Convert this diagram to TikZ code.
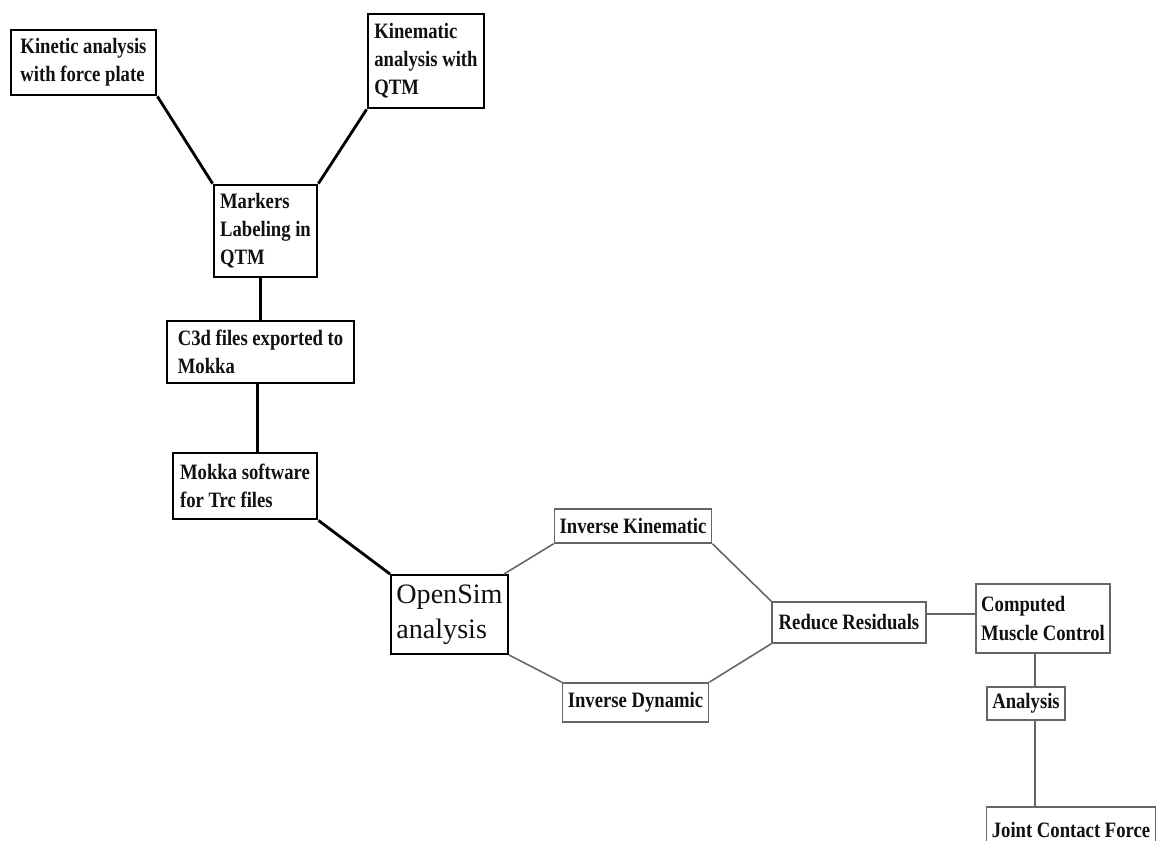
\documentclass[tikz,border=0pt]{standalone}
\usepackage{fontspec}
\setmainfont{Liberation Serif}[FakeStretch=0.85]
\newfontfamily\simfont{Liberation Serif}
\usetikzlibrary{positioning, calc}
\definecolor{ink}{HTML}{111111}
\definecolor{greyline}{HTML}{666666}
\tikzset{
  stepbox/.style={
    rectangle, draw=black, fill=white, line width=1.6pt,
    inner sep=3pt, align=left, text=ink,
    font=\bfseries\fontsize{12.5}{16}\selectfont
  },
  simbox/.style={stepbox, draw=greyline, line width=0.9pt, align=center},
  cmcbox/.style={simbox, align=left},
  openbox/.style={stepbox, line width=1.1pt,
    font=\simfont\fontsize{16}{20}\selectfont},
  link/.style={line width=1.6pt, draw=black},
  thinlink/.style={line width=0.9pt, draw=greyline},
}

\begin{document}
\begin{tikzpicture}[x=0.02cm, y=-0.02cm]
  \useasboundingbox (0,0) rectangle (1159,841);

  % data collection
  \node[stepbox, minimum width=2.9cm, minimum height=1.3cm] (kinetic) at (83.5,62.5)
    {Kinetic analysis\\with force plate};
  \node[stepbox, minimum width=2.32cm, minimum height=1.88cm] (kinematic) at (426,61)
    {Kinematic\\analysis with\\QTM};
  \node[stepbox, minimum width=2.06cm, minimum height=1.84cm] (markers) at (265.5,231)
    {Markers\\Labeling in\\QTM};
  \node[stepbox, minimum width=3.74cm, minimum height=1.24cm] (c3d) at (260.5,352)
    {C3d files exported to\\Mokka};
  \node[stepbox, minimum width=2.88cm, minimum height=1.32cm] (mokka) at (245,486)
    {Mokka software\\for Trc files};

  % OpenSim part
  \node[openbox, minimum width=2.34cm, minimum height=1.58cm] (opensim) at (449.5,614.5)
    {OpenSim\\analysis};
  \node[simbox, minimum width=3.04cm, minimum height=0.68cm] (ik) at (633,526)
    {Inverse Kinematic};
  \node[simbox, minimum width=2.9cm, minimum height=0.78cm] (id) at (635.5,702.5)
    {Inverse Dynamic};
  \node[simbox, minimum width=3.08cm, minimum height=0.82cm] (rr) at (849,622.5)
    {Reduce Residuals};
  \node[cmcbox, minimum width=2.64cm, minimum height=1.38cm] (cmc) at (1043,618.5)
    {Computed\\Muscle Control};
  \node[simbox, minimum width=1.56cm, minimum height=0.66cm] (analysis) at (1026,703.5)
    {Analysis};
  \node[simbox, minimum width=3.36cm, minimum height=0.92cm] (jcf) at (1071,830)
    {Joint Contact Force};

  \draw[link] (kinetic.south east) -- (markers.north west);
  \draw[link] (kinematic.south west) -- (markers.north east);
  \draw[link] (c3d.north) -- (c3d.north |- markers.south);
  \draw[link] ([xshift=-0.06cm]c3d.south) -- ([xshift=-0.06cm]c3d.south |- mokka.north);
  \draw[link] (mokka.south east) -- (opensim.north west);

  \draw[thinlink] ([xshift=-0.1cm]opensim.north east) -- (ik.south west);
  \draw[thinlink] (opensim.south east) -- (id.north west);
  \draw[thinlink] (ik.south east) -- (rr.north west);
  \draw[thinlink] (id.north east) -- (rr.south west);
  \draw[thinlink] ([yshift=0.17cm]rr.east) -- ([yshift=0.17cm]rr.east -| cmc.west);
  \draw[thinlink] ([xshift=0.18cm]analysis.north) -- ([xshift=0.18cm]analysis.north |- cmc.south);
  \draw[thinlink] ([xshift=0.18cm]analysis.south) -- ([xshift=0.18cm]analysis.south |- jcf.north);
\end{tikzpicture}
\end{document}
